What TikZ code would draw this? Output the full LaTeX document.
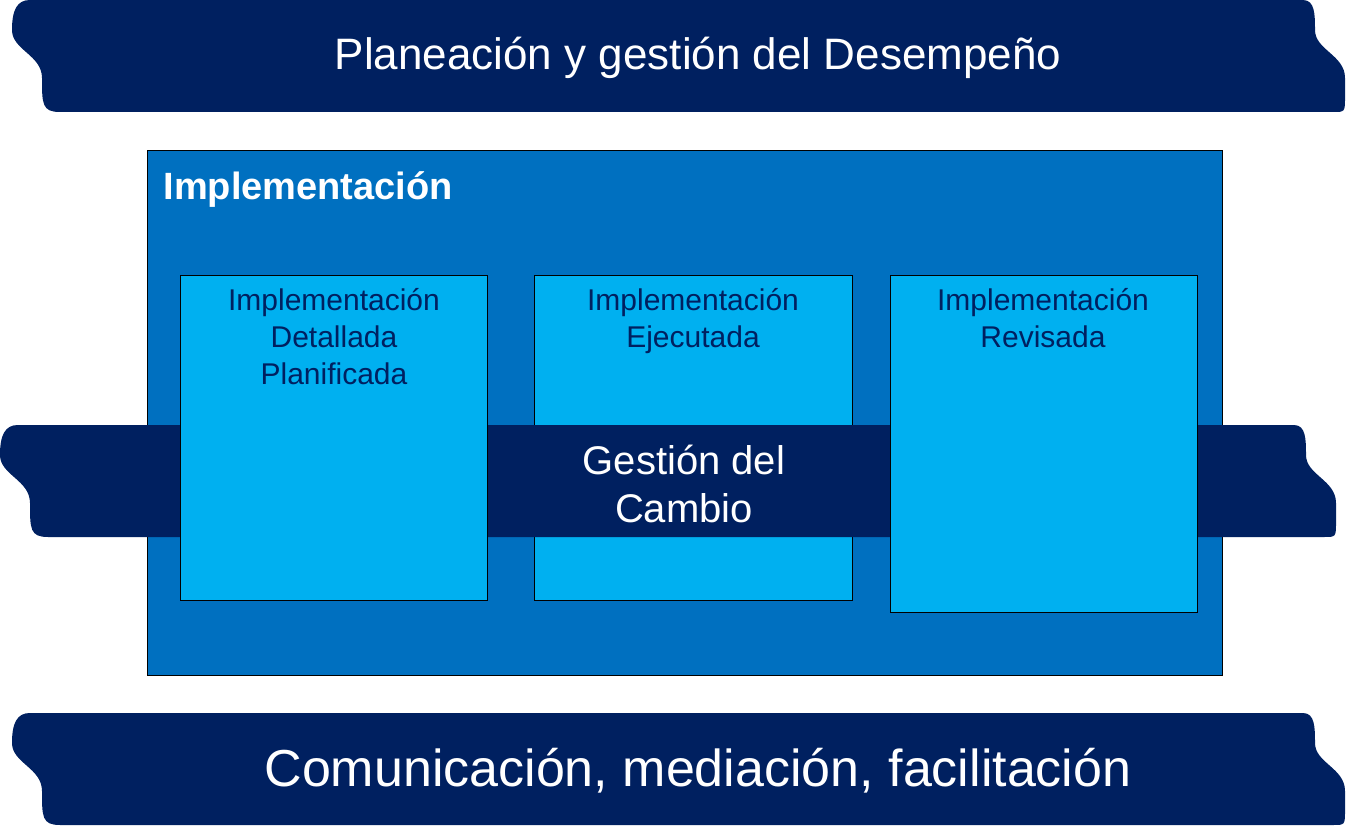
\documentclass[tikz,border=0pt]{standalone}
\usepackage{fontspec}
\setmainfont{Liberation Sans}
\definecolor{navy}{HTML}{002060}
\definecolor{midblue}{HTML}{0070C0}
\definecolor{lightblue}{HTML}{00B0F0}
\newcommand{\banner}[4]{% xl, xr, y0, h
  \fill[navy] (#1+18,#3) -- (#2-12,#3)
    .. controls (#2,#3) and (#2,#3+15) .. (#2,#3+30)
    .. controls (#2,#3+50) and (#2+30,#3+55) .. (#2+30,#3+78)
    -- (#2+30,#3+#4-15) .. controls (#2+30,#3+#4) .. (#2+18,#3+#4)
    -- (#1+48,#3+#4) .. controls (#1+30,#3+#4) and (#1+30,#3+#4-8) .. (#1+30,#3+78)
    .. controls (#1+30,#3+55) and (#1,#3+50) .. (#1,#3+30)
    .. controls (#1,#3+10) and (#1+5,#3) .. (#1+18,#3) -- cycle;}
\tikzset{inbox/.style={draw=black,fill=lightblue,line width=1pt,anchor=north west,inner sep=0pt},
  intext/.style={text=navy,font=\fontsize{30}{37}\selectfont,align=center,anchor=north}}
\begin{document}
\begin{tikzpicture}[x=1pt,y=-1pt]
\useasboundingbox (0,0) rectangle (1347,840);
\banner{12}{1315}{0}{112}
\node[text=white,font=\fontsize{44}{50}\selectfont] (t1) at (698,58) {Planeación y gestión del Desempeño};
\node[draw=black,fill=midblue,line width=1pt,minimum width=1075pt,minimum height=525pt,anchor=north west,inner sep=0pt] (main) at (147,150) {};
\node[text=white,font=\bfseries\fontsize{38}{44}\selectfont,anchor=west] (title) at (160,190) {Implementación};
\node[inbox,minimum width=318pt,minimum height=325pt] (b2) at (534,275) {};
\banner{0}{1306}{425}{112}
\node[text=white,font=\fontsize{40}{48}\selectfont,align=center] (gc) at (684,484) {Gestión del\\Cambio};
\node[inbox,minimum width=307pt,minimum height=325pt] (b1) at (180,275) {};
\node[inbox,minimum width=307pt,minimum height=337pt] (b3) at (890,275) {};
\node[intext] at (334,285) {Implementación\\Detallada\\Planificada};
\node[intext] at (693,285) {Implementación\\Ejecutada};
\node[intext] at (1043,285) {Implementación\\Revisada};
\banner{12}{1315}{713}{112}
\node[text=white,font=\fontsize{52}{60}\selectfont] (t3) at (698,771) {Comunicación, mediación, facilitación};
\end{tikzpicture}
\end{document}
